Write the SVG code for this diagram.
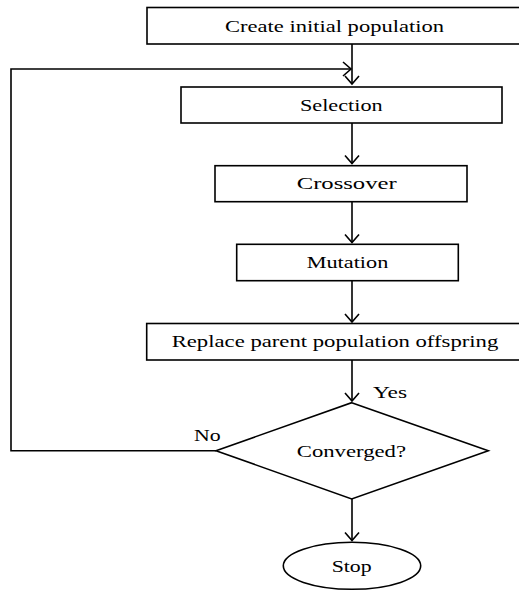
<svg xmlns="http://www.w3.org/2000/svg" width="519" height="592" viewBox="0 0 519 592">
<style>
.box{fill:#fff;stroke:#000;stroke-width:1.6}
.ln{fill:none;stroke:#000;stroke-width:1.6}
text{font-family:"Liberation Serif","Times New Roman",serif;font-size:16.5px;fill:#000;text-anchor:middle}
</style>
<defs>
<marker id="ah" viewBox="-10 -10 20 20" markerWidth="20" markerHeight="20" refX="0" refY="0" orient="auto" markerUnits="userSpaceOnUse">
<path d="M-8,-7 L0,0 L-8,7" fill="none" stroke="#000" stroke-width="1.6"/>
</marker>
</defs>
<g id="connectors">
<line class="ln" x1="352" y1="44" x2="352" y2="84" marker-end="url(#ah)"/>
<polyline class="ln" points="216,450.7 11,450.7 11,69 351,69" marker-end="url(#ah)"/>
<line class="ln" x1="352" y1="123" x2="352" y2="163.5" marker-end="url(#ah)"/>
<line class="ln" x1="352" y1="202" x2="352" y2="242.5" marker-end="url(#ah)"/>
<line class="ln" x1="352" y1="281" x2="352" y2="322" marker-end="url(#ah)"/>
<line class="ln" x1="352" y1="360" x2="352" y2="401" marker-end="url(#ah)"/>
<line class="ln" x1="352" y1="499" x2="352" y2="540.5" marker-end="url(#ah)"/>
<text x="390" y="398" textLength="34" lengthAdjust="spacingAndGlyphs">Yes</text>
<text x="207.3" y="441" textLength="26.7" lengthAdjust="spacingAndGlyphs">No</text>
</g>
<g id="create">
<rect class="box" x="147" y="7.5" width="376" height="36.5"/>
<text x="334.5" y="32.3" textLength="219" lengthAdjust="spacingAndGlyphs">Create initial population</text>
</g>
<g id="selection">
<rect class="box" x="181" y="87" width="321" height="36"/>
<text x="341.3" y="110.5" textLength="82.7" lengthAdjust="spacingAndGlyphs">Selection</text>
</g>
<g id="crossover">
<rect class="box" x="215" y="165.7" width="252" height="36"/>
<text x="346.7" y="189" textLength="100" lengthAdjust="spacingAndGlyphs">Crossover</text>
</g>
<g id="mutation">
<rect class="box" x="236.7" y="244.3" width="221.6" height="36.4"/>
<text x="347.5" y="268.3" textLength="81.7" lengthAdjust="spacingAndGlyphs">Mutation</text>
</g>
<g id="replace">
<rect class="box" x="146.7" y="323.5" width="376" height="36.5"/>
<text x="335" y="347.3" textLength="326.7" lengthAdjust="spacingAndGlyphs">Replace parent population offspring</text>
</g>
<g id="converged">
<polygon class="box" points="351.7,402.7 488.3,450.7 351.7,499 216,450.7"/>
<text x="351.4" y="456.7" textLength="109.3" lengthAdjust="spacingAndGlyphs">Converged?</text>
</g>
<g id="stop">
<ellipse class="box" cx="352" cy="565.8" rx="68.7" ry="23.5"/>
<text x="351.7" y="571.7" textLength="40" lengthAdjust="spacingAndGlyphs">Stop</text>
</g>
</svg>
